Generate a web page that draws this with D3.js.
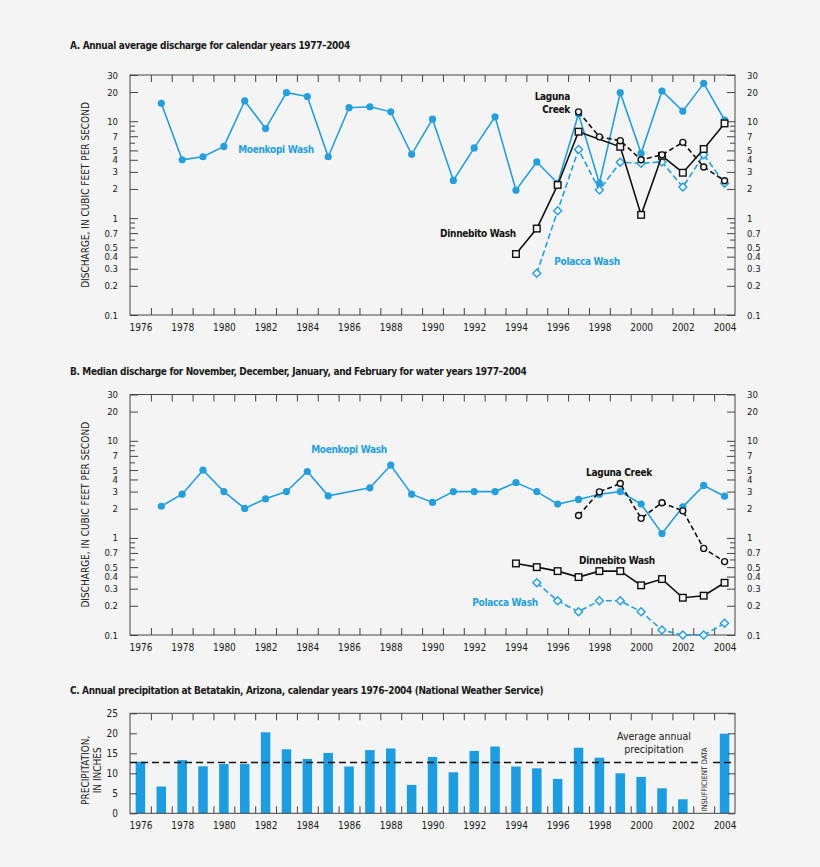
<!DOCTYPE html>
<html><head><meta charset="utf-8">
<script src="https://cdn.jsdelivr.net/npm/d3@7"></script>
<style>
body{margin:0;background:#f4f4f4;}
svg{display:block;}
text{font-family:"DejaVu Sans Condensed","DejaVu Sans",sans-serif;font-stretch:condensed;}
</style></head>
<body>
<svg id="c" width="820" height="867"></svg>
<script>
// ---------------- DATA ----------------
const yearTicks = [1976,1978,1980,1982,1984,1986,1988,1990,1992,1994,1996,1998,2000,2002,2004];
const logTickLabels = [0.1,0.2,0.3,0.4,0.5,0.7,1,2,3,4,5,7,10,20,30];

// Panel A: annual average discharge (cfs)
const moenkopiA_years = [1977,1978,1979,1980,1981,1982,1983,1984,1985,1986,1987,1988,1989,1990,1991,1992,1993,1994,1995,1996,1997,1998,1999,2000,2001,2002,2003,2004];
const moenkopiA = [15.3,4.0,4.3,5.5,16.2,8.4,19.7,18.0,4.3,13.8,14.1,12.5,4.55,10.5,2.45,5.3,11.1,1.94,3.8,2.29,11.9,2.29,19.7,4.67,20.5,12.7,24.6,10.3];
const lagunaA_years = [1997,1998,1999,2000,2001,2002,2003,2004];
const lagunaA = [12.5,6.9,6.3,4.0,4.5,6.05,3.37,2.43];
const dinnebitoA_years = [1994,1995,1996,1997,1999,2000,2001,2002,2003,2004];
const dinnebitoA = [0.426,0.78,2.2,7.8,5.45,1.08,4.4,2.94,5.17,9.5];
const polaccaA_years = [1995,1996,1997,1998,1999,2000,2001,2002,2003,2004];
const polaccaA = [0.27,1.19,5.1,1.95,3.77,3.68,3.8,2.09,4.5,2.29];

// Panel B: median Nov-Feb discharge (cfs)
const moenkopiB_years = [1977,1978,1979,1980,1981,1982,1983,1984,1985,1987,1988,1989,1990,1991,1992,1993,1994,1995,1996,1997,1998,1999,2000,2001,2002,2003,2004];
const moenkopiB = [2.12,2.82,4.99,3.0,2.01,2.53,3.0,4.83,2.71,3.28,5.61,2.82,2.32,3.0,3.0,3.0,3.72,3.0,2.23,2.49,2.82,3.0,2.23,1.11,2.09,3.47,2.69];
const lagunaB_years = [1997,1998,1999,2000,2001,2002,2003,2004];
const lagunaB = [1.70,2.98,3.63,1.59,2.3,1.9,0.78,0.57];
const dinnebitoB_years = [1994,1995,1996,1997,1998,1999,2000,2001,2002,2003,2004];
const dinnebitoB = [0.546,0.50,0.455,0.395,0.455,0.455,0.325,0.377,0.242,0.254,0.345];
const polaccaB_years = [1995,1996,1997,1998,1999,2000,2001,2002,2003,2004];
const polaccaB = [0.345,0.225,0.174,0.225,0.225,0.174,0.1125,0.1,0.1,0.132];

// Panel C: annual precipitation (inches), 2003 insufficient data
const precipYears = [1976,1977,1978,1979,1980,1981,1982,1983,1984,1985,1986,1987,1988,1989,1990,1991,1992,1993,1994,1995,1996,1997,1998,1999,2000,2001,2002,2003,2004];
const precip = [12.9,6.7,13.3,11.75,12.3,12.3,20.25,16.0,13.6,15.1,11.7,15.8,16.2,7.1,14.1,10.25,15.6,16.7,11.7,11.25,8.6,16.4,13.9,10.0,9.1,6.25,3.5,null,19.9];
const avgPrecip = 12.67;
const precipTicks = [0,5,10,15,20,25];

// ---------------- DRAW ----------------
const BLUE = "#23a0dc", BAR = "#1b9de2", BLACK = "#111", TXT = "#1a1a1a", AXIS = "#444", BG = "#f4f4f4";
const TICKFS = 9.5;
const svg = d3.select("#c");
svg.append("rect").attr("width",820).attr("height",867).attr("fill",BG);
const L = 130, R = 735;
const x = d3.scaleLinear().domain([1975.5,2004.5]).range([L,R]);
const boundaryTicks = d3.range(1976.5,2004,1);

function title(txt, y){
  svg.append("text").attr("x",70).attr("y",y).attr("font-size",10).attr("font-weight","bold")
    .attr("letter-spacing",-0.35).attr("fill",TXT).text(txt);
}
function xAxisCommon(g, top, bot){
  g.append("g").attr("transform",`translate(0,${bot})`)
    .call(d3.axisBottom(x).tickValues(boundaryTicks).tickSize(-7).tickFormat(""))
    .call(a=>{a.select(".domain").remove();a.selectAll("line").attr("stroke",AXIS);});
  g.append("g").attr("transform",`translate(0,${top})`)
    .call(d3.axisTop(x).tickValues(boundaryTicks).tickSize(-7).tickFormat(""))
    .call(a=>{a.select(".domain").remove();a.selectAll("line").attr("stroke",AXIS);});
  g.append("g").attr("transform",`translate(0,${bot})`)
    .call(d3.axisBottom(x).tickValues(yearTicks).tickSize(0).tickPadding(9).tickFormat(d3.format("d")))
    .call(a=>{a.select(".domain").remove();a.selectAll("text").attr("font-size",TICKFS+0.5).attr("font-family",null).attr("fill",TXT);});
  g.append("rect").attr("x",L).attr("y",top).attr("width",R-L).attr("height",bot-top)
    .attr("fill","none").attr("stroke",AXIS).attr("stroke-width",1);
}
function logPanel(top, bot, series, labels){
  const g = svg.append("g");
  const y = d3.scaleLog().domain([0.1,30]).range([bot,top]);
  const minor = [];
  [0.1,1,10].forEach(dec=>{for(let k=1;k<10;k++){const v=dec*k; if(v<=30.0001) minor.push(+v.toPrecision(3));}});
  const unl = minor.filter(v=>!logTickLabels.includes(v));
  [[d3.axisLeft,L],[d3.axisRight,R]].forEach(([ax,xp])=>{
    g.append("g").attr("transform",`translate(${xp},0)`)
      .call(ax(y).tickValues(unl).tickSize(-5).tickFormat(""))
      .call(a=>{a.select(".domain").remove();a.selectAll("line").attr("stroke",AXIS);});
    g.append("g").attr("transform",`translate(${xp},0)`)
      .call(ax(y).tickValues(logTickLabels).tickSize(-8).tickPadding(12).tickFormat(d=>String(d)))
      .call(a=>{a.select(".domain").remove();a.selectAll("line").attr("stroke",AXIS);
        a.selectAll("text").attr("font-size",TICKFS).attr("font-family",null).attr("fill",TXT);});
  });
  xAxisCommon(g, top, bot);
  const line = d3.line().x(d=>x(d[0])).y(d=>y(d[1]));
  series.forEach(s=>{
    const pts = s.years.map((yr,i)=>[yr,s.values[i]]);
    g.append("path").attr("d",line(pts)).attr("fill","none").attr("stroke",s.color)
      .attr("stroke-width",1.6).attr("stroke-dasharray",s.dash||null);
    const m = g.append("g");
    pts.forEach(p=>{
      const cx=x(p[0]), cy=y(p[1]);
      if(s.marker==="dot") m.append("circle").attr("cx",cx).attr("cy",cy).attr("r",3.6).attr("fill",s.color);
      else if(s.marker==="circle") m.append("circle").attr("cx",cx).attr("cy",cy).attr("r",3).attr("fill",BG).attr("stroke",s.color).attr("stroke-width",1.4);
      else if(s.marker==="square") m.append("rect").attr("x",cx-3.3).attr("y",cy-3.3).attr("width",6.6).attr("height",6.6).attr("fill",BG).attr("stroke",s.color).attr("stroke-width",1.4);
      else if(s.marker==="diamond") m.append("path").attr("d",`M${cx},${cy-4}L${cx+4},${cy}L${cx},${cy+4}L${cx-4},${cy}Z`).attr("fill",BG).attr("stroke",s.color).attr("stroke-width",1.4);
    });
  });
  labels.forEach(l=>{
    const t = g.append("text").attr("x",l.x).attr("y",l.y).attr("font-size",10).attr("font-weight","bold")
      .attr("letter-spacing",-0.3).attr("text-anchor",l.anchor||"middle").attr("fill",l.color);
    l.lines.forEach((ln,i)=>t.append("tspan").attr("x",l.x).attr("dy",i?13:0).text(ln));
  });
  svg.append("text").attr("transform",`translate(89,${(top+bot)/2}) rotate(-90)`).attr("text-anchor","middle")
    .attr("font-size",10).attr("fill",TXT).text("DISCHARGE, IN CUBIC FEET PER SECOND");
}

// Panel A
title("A.  Annual average discharge for calendar years 1977–2004", 49);
logPanel(75, 315, [
  {years:moenkopiA_years, values:moenkopiA, color:BLUE, marker:"dot"},
  {years:polaccaA_years, values:polaccaA, color:BLUE, marker:"diamond", dash:"6,3"},
  {years:dinnebitoA_years, values:dinnebitoA, color:BLACK, marker:"square"},
  {years:lagunaA_years, values:lagunaA, color:BLACK, marker:"circle", dash:"5,3"}
],[
  {x:276,y:153,lines:["Moenkopi Wash"],color:BLUE},
  {x:570,y:100,lines:["Laguna","Creek"],color:BLACK,anchor:"end"},
  {x:478,y:237,lines:["Dinnebito Wash"],color:BLACK},
  {x:587,y:265,lines:["Polacca Wash"],color:BLUE}
]);

// Panel B
title("B.  Median discharge for November, December, January, and February for water years 1977–2004", 375);
logPanel(394.5, 635, [
  {years:moenkopiB_years, values:moenkopiB, color:BLUE, marker:"dot"},
  {years:polaccaB_years, values:polaccaB, color:BLUE, marker:"diamond", dash:"6,3"},
  {years:dinnebitoB_years, values:dinnebitoB, color:BLACK, marker:"square"},
  {years:lagunaB_years, values:lagunaB, color:BLACK, marker:"circle", dash:"5,3"}
],[
  {x:349,y:453,lines:["Moenkopi Wash"],color:BLUE},
  {x:619,y:476,lines:["Laguna Creek"],color:BLACK},
  {x:617,y:564,lines:["Dinnebito Wash"],color:BLACK},
  {x:505,y:606,lines:["Polacca Wash"],color:BLUE}
]);

// Panel C
title("C.  Annual precipitation at Betatakin, Arizona, calendar years 1976–2004 (National Weather Service)", 694);
(function(){
  const top=713.3, bot=813.3;
  const g = svg.append("g");
  const y = d3.scaleLinear().domain([0,25]).range([bot,top]);
  const bw = 9.5;
  g.selectAll("rect.bar").data(precipYears.map((yr,i)=>({yr,v:precip[i]})).filter(d=>d.v!==null))
    .enter().append("rect").attr("class","bar")
    .attr("x",d=>x(d.yr)-bw/2).attr("width",bw).attr("y",d=>y(d.v)).attr("height",d=>bot-y(d.v)).attr("fill",BAR);
  g.append("g").attr("transform",`translate(${L},0)`)
    .call(d3.axisLeft(y).tickValues(precipTicks).tickSize(-7).tickPadding(12))
    .call(a=>{a.select(".domain").remove();a.selectAll("line").attr("stroke",AXIS);
      a.selectAll("text").attr("font-size",TICKFS+0.5).attr("font-family",null).attr("fill",TXT);});
  g.append("g").attr("transform",`translate(${R},0)`)
    .call(d3.axisRight(y).tickValues(precipTicks).tickSize(-7).tickFormat(""))
    .call(a=>{a.select(".domain").remove();a.selectAll("line").attr("stroke",AXIS);});
  xAxisCommon(g, top, bot);
  g.append("line").attr("x1",L).attr("x2",R).attr("y1",y(avgPrecip)).attr("y2",y(avgPrecip))
    .attr("stroke",BLACK).attr("stroke-width",1.5).attr("stroke-dasharray","7,4");
  g.append("rect").attr("x",x(2003)-5).attr("y",y(avgPrecip)-3).attr("width",11).attr("height",6).attr("fill",BG);
  const t = g.append("text").attr("x",654).attr("y",740).attr("text-anchor","middle").attr("font-size",10.5).attr("fill",TXT);
  t.append("tspan").attr("x",654).text("Average annual");
  t.append("tspan").attr("x",654).attr("dy",13).text("precipitation");
  g.append("text").attr("transform",`translate(${x(2003)+3},${bot-2}) rotate(-90)`).attr("font-size",7.5)
    .attr("letter-spacing",-0.1).attr("fill",TXT).text("INSUFFICIENT DATA");
  const yt = svg.append("text").attr("transform",`translate(89,${(top+bot)/2+7}) rotate(-90)`).attr("text-anchor","middle").attr("font-size",10).attr("fill",TXT);
  yt.append("tspan").attr("x",0).text("PRECIPITATION,");
  yt.append("tspan").attr("x",0).attr("dy",12).text("IN INCHES");
})();
</script>
</body></html>
